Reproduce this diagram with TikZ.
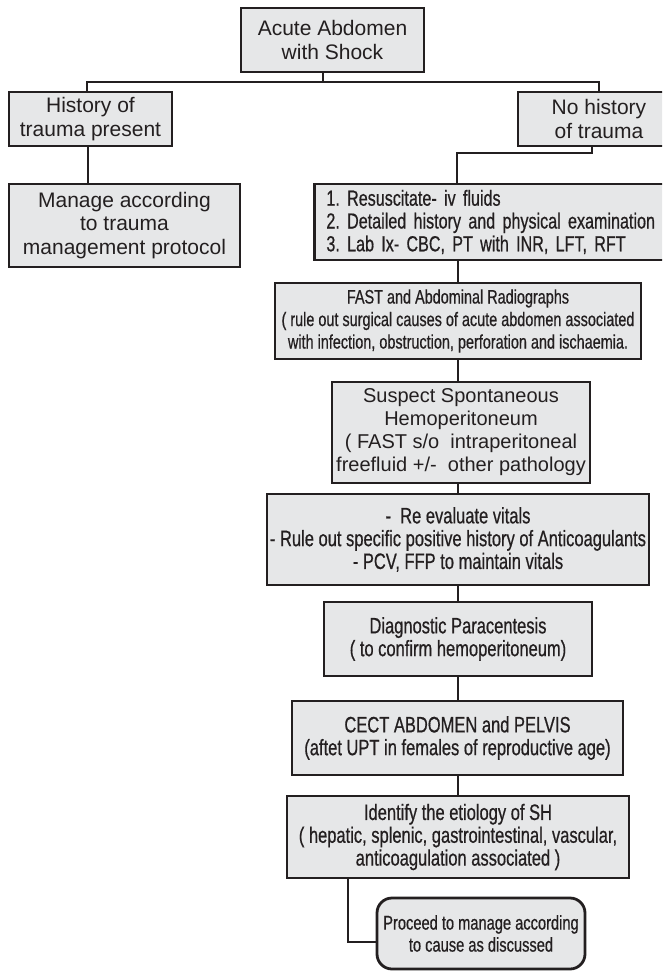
\documentclass[tikz,border=0pt]{standalone}
\usepackage{fontspec}
\setmainfont{Liberation Sans}
\newfontfamily\condfont[FakeStretch=0.74,FakeBold=0.6]{Liberation Sans}
\definecolor{boxfill}{RGB}{230,231,232}
\definecolor{ink}{RGB}{35,31,32}
\frenchspacing
\begin{document}
\begin{tikzpicture}[x=1pt,y=-1pt]
\tikzset{
  box/.style={draw=ink, fill=boxfill, line width=2.8pt, inner sep=0pt, align=center, text=ink},
  link/.style={draw=ink, line width=2.8pt},
  bigfont/.style={font=\fontsize{21}{23.5}\selectfont},
  condf/.style={font=\condfont\fontsize{22.3}{22.8}\selectfont},
}
\useasboundingbox (0,0) rectangle (662,971);
\clip (0,0) rectangle (662,971);

\node[box,bigfont,minimum width=183pt,minimum height=64pt] (top) at (332.5,40) {Acute Abdomen\\with Shock};
\node[box,bigfont,minimum width=163pt,minimum height=54pt] (hist) at (90.5,119) {History of\\trauma present};
\node[box,bigfont,minimum width=162pt,minimum height=54pt] (nohist) at (599,119) {No history\\of trauma};
\node[box,bigfont,minimum width=231pt,minimum height=83pt] (manage) at (124.5,225.5) {Manage according\\to trauma\\management protocol};
\node[box,font=\condfont\fontsize{21.8}{22.8}\selectfont,anchor=west,text width=346pt,inner xsep=12pt,align=left,minimum height=76pt] (resus) at (313,222) {1. Resuscitate- iv fluids\\2. Detailed history and physical examination\\3. Lab Ix- CBC, PT with INR, LFT, RFT};
\node[box,font=\condfont\fontsize{19.5}{22.5}\selectfont,minimum width=366pt,minimum height=76pt] (fast) at (458,321) {FAST and Abdominal Radiographs\\( rule out surgical causes of acute abdomen associated\\with infection, obstruction, perforation and ischaemia.};
\node[box,font=\fontsize{20}{23}\selectfont,minimum width=258pt,minimum height=101pt] (susp) at (461,432.5) {Suspect Spontaneous\\Hemoperitoneum\\( FAST s/o\ \ intraperitoneal\\freefluid +/-\ \ other pathology};
\node[box,condf,minimum width=382pt,minimum height=91pt] (reev) at (458,539.5) {-\ \ Re evaluate vitals\\- Rule out specific positive history of Anticoagulants\\- PCV, FFP to maintain vitals};
\node[box,condf,minimum width=268pt,minimum height=74pt] (diag) at (458,639) {Diagnostic Paracentesis\\( to confirm hemoperitoneum)};
\node[box,condf,minimum width=331pt,minimum height=74pt] (cect) at (457.5,738) {CECT ABDOMEN and PELVIS\\(aftet UPT in females of reproductive age)};
\node[box,condf,minimum width=342pt,minimum height=82pt] (ident) at (458,837) {Identify the etiology of SH\\( hepatic, splenic, gastrointestinal, vascular,\\anticoagulation associated )};
\node[box,font=\condfont\fontsize{19.8}{22}\selectfont,rounded corners=15pt,minimum width=208pt,minimum height=71pt] (proc) at (481,933.5) {Proceed to manage according\\to cause as discussed};

\coordinate (j1) at (323,82);
\coordinate (j2) at (457,153);
\coordinate (j3) at (348,942);
\draw[link] ([xshift=-9.5pt]top.south) -- (j1);
\draw[link] ([xshift=-3.5pt]hist.north) |- (j1) -| (nohist.north);
\draw[link] ([xshift=-2.5pt]hist.south) -- ([xshift=-2.5pt]hist.south |- manage.north);
\draw[link] ([xshift=-7pt]nohist.south) |- (j2) -- (j2 |- resus.north);
\draw[link] (resus.south -| fast.north) -- (fast.north);
\draw[link] (fast.south) -- (fast.south |- susp.north);
\draw[link] (susp.south -| reev.north) -- (reev.north);
\draw[link] (reev.south) -- (reev.south |- diag.north);
\draw[link] (diag.south) -- (diag.south |- cect.north);
\draw[link] (cect.south -| ident.north) -- (ident.north);
\draw[link] (j3 |- ident.south) -- (j3) -- (j3 -| proc.west);
\end{tikzpicture}
\end{document}
